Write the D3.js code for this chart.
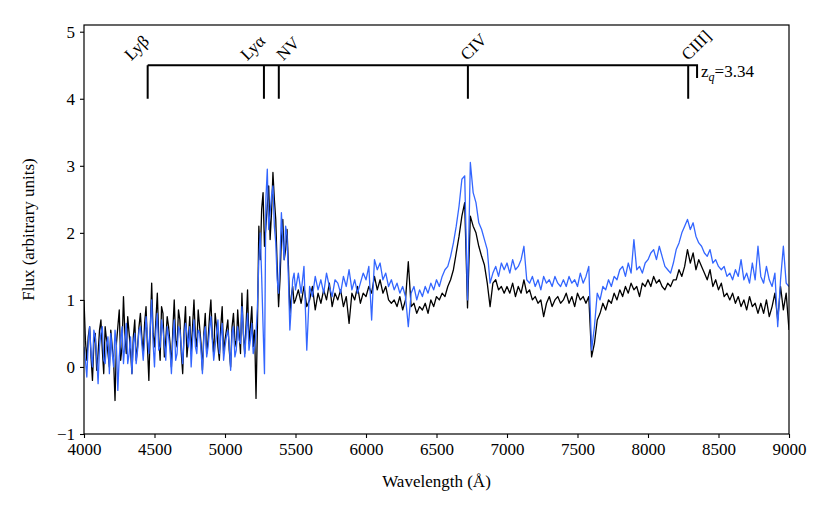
<!DOCTYPE html>
<html>
<head>
<meta charset="utf-8">
<script src="https://cdn.jsdelivr.net/npm/d3@7"></script>
<style>
  body { margin: 0; background: #fff; }
  #wrap { position: relative; width: 830px; height: 513px; }
  text, .lname { font-family: "Liberation Serif", "DejaVu Serif", serif; }
  .lname {
    position: absolute; font-size: 17px; line-height: 1; white-space: nowrap;
    transform-origin: 0 0; transform: rotate(-45deg) translateY(-0.8em);
  }
</style>
</head>
<body>
<div id="wrap"><svg id="chart"></svg></div>
<script>
// wavelength grid: 10 A bins in the noisy blue part, 20 A bins after 5500 A
const waves = d3.range(4000, 5500, 10).concat(d3.range(5500, 9001, 20));

// flux, black spectrum
const fluxBlack = [
  1.0, 0.4, 0.1, 0.45, 0.6, 0.15, -0.2, 0.35, 0.5, -0.05,   // 4000 (10 A)
  0.2, 0.55, 0.7, 0.25, -0.1, 0.6, 0.4, 0.2, 0.0, 0.55,     // 4100
  0.3, 0.1, -0.5, 0.35, 0.6, 0.85, 0.1, 0.3, 1.05, 0.5,     // 4200
  0.2, 0.75, 0.5, 0.25, -0.1, 0.45, 0.7, 0.1, 0.3, 0.6,     // 4300
  0.8, 0.45, 0.2, 0.65, 0.9, 0.3, -0.2, 0.55, 1.25, 0.5,    // 4400
  0.3, 0.7, 1.1, 0.45, 0.1, 0.9, 0.8, 0.15, 0.4, 0.75,      // 4500
  0.6, 0.35, 0.0, 0.55, 1.0, 0.4, 0.3, 0.85, 0.7, 0.2,      // 4600
  -0.1, 0.55, 0.9, 0.15, 0.4, 0.75, 0.2, 0.6, 1.0, 0.45,    // 4700
  0.3, 0.85, 0.6, 0.35, -0.05, 0.5, 0.8, 0.2, 0.4, 0.75,    // 4800
  1.0, 0.45, 0.2, 0.8, 0.6, 0.3, 0.1, 0.6, 0.9, 0.2,        // 4900
  0.4, 0.55, 0.7, 0.25, 0.0, 0.6, 0.8, 0.4, 0.3, 0.85,      // 5000
  0.5, 0.2, 1.1, 0.5, 0.2, 0.65, 1.15, 0.35, 0.6, 0.9,      // 5100
  0.3, 0.55, -0.47, 0.6, 2.1, 1.6, 2.35, 2.6, 1.8, 2.1,     // 5200
  2.4, 2.7, 1.9, 2.3, 2.9, 2.5, 2.2, 1.5, 0.9, 1.3,         // 5300
  1.9, 2.2, 1.6, 1.75, 2.05, 1.5, 0.8, 1.05, 1.2, 0.95,     // 5400
  1.0, 1.15, 0.95, 1.2, 0.9,                                // 5500 (20 A)
  1.0, 1.2, 0.85, 1.1, 0.95, 1.15, 1.0, 1.25, 0.9, 1.1,     // 5600
  1.0, 1.15, 0.9, 1.05, 0.65, 1.1, 1.0, 1.2, 0.95, 1.1,     // 5800
  1.05, 1.2, 1.1, 1.35, 1.15, 1.3, 1.1, 1.2, 1.0, 0.95,     // 6000
  1.0, 0.9, 1.05, 0.85, 1.0, 1.57, 0.9, 0.95, 0.8, 0.9,     // 6200
  0.85, 0.95, 0.8, 1.0, 0.9, 1.05, 1.0, 1.1, 1.05, 1.2,     // 6400
  1.3, 1.45, 1.7, 1.95, 2.25, 2.45, 0.88, 2.25, 2.1, 2.0,   // 6600
  1.8, 1.65, 1.52, 1.25, 0.9, 1.25, 1.3, 1.15, 1.2, 1.1,    // 6800
  1.2, 1.1, 1.25, 1.05, 1.2, 1.1, 1.3, 1.1, 1.15, 1.0,      // 7000
  1.05, 0.95, 1.0, 0.75, 0.95, 1.05, 0.9, 1.0, 1.05, 0.95,  // 7200
  1.0, 1.1, 0.95, 1.05, 0.9, 1.1, 1.0, 1.05, 0.95, 1.05,    // 7400
  0.15, 0.35, 0.7, 0.8, 0.95, 0.85, 1.0, 0.95, 1.1, 1.0,    // 7600
  1.15, 1.05, 1.2, 1.1, 1.25, 1.15, 1.2, 1.05, 1.25, 1.2,   // 7800
  1.3, 1.2, 1.35, 1.25, 1.3, 1.2, 1.15, 1.25, 1.2, 1.3,     // 8000
  1.3, 1.45, 1.35, 1.5, 1.75, 1.55, 1.7, 1.45, 1.6, 1.5,    // 8200
  1.4, 1.3, 1.45, 1.2, 1.3, 1.15, 1.25, 1.05, 1.1, 1.0,     // 8400
  1.1, 0.95, 1.05, 0.9, 1.0, 0.85, 1.05, 0.9, 0.95, 0.8,    // 8600
  0.95, 0.8, 1.0, 0.75, 0.9, 1.1, 0.7, 1.2, 0.85, 1.1,      // 8800
  0.55                                                      // 9000
];

// flux, blue spectrum
const fluxBlue = [
  0.3, 0.1, -0.15, 0.35, 0.6, 0.2, 0.0, 0.55, 0.45, 0.15,   // 4000 (10 A)
  -0.25, 0.3, 0.5, 0.6, 0.1, 0.05, 0.35, 0.45, -0.1, 0.5,   // 4100
  0.2, 0.0, 0.55, 0.3, -0.35, 0.15, 0.4, 0.6, 0.05, 0.35,   // 4200
  0.65, 0.05, 0.2, 0.45, -0.1, 0.35, 0.5, 0.05, 0.25, 0.55, // 4300
  0.6, 0.35, 0.1, 0.4, 0.75, 0.45, 0.2, 0.6, 1.0, 0.35,     // 4400
  0.0, 0.55, 0.8, 0.25, 0.3, 0.7, 0.55, 0.35, 0.1, 0.6,     // 4500
  0.45, 0.25, -0.1, 0.4, 0.7, 0.1, 0.2, 0.6, 0.55, 0.3,     // 4600
  0.05, 0.45, 0.65, 0.5, 0.3, 0.6, 0.0, 0.4, 0.7, 0.3,      // 4700
  0.2, 0.55, 0.5, 0.25, -0.1, 0.45, 0.6, 0.15, 0.3, 0.55,   // 4800
  0.75, 0.4, 0.1, 0.3, 0.5, 0.7, 0.2, 0.45, 0.65, 0.1,      // 4900
  0.3, 0.45, 0.55, 0.35, -0.05, 0.5, 0.6, 0.15, 0.25, 0.6,  // 5000
  0.4, 0.35, 0.9, 0.55, 0.15, 0.5, 0.8, 0.25, 0.4, 0.65,    // 5100
  0.2, 0.3, 0.5, 0.9, 1.6, 2.0, 1.35, 0.6, -0.1, 2.5,       // 5200
  2.95, 2.05, 2.3, 2.55, 2.7, 2.1, 1.85, 1.3, 1.1, 1.6,     // 5300
  2.3, 1.9, 1.6, 2.1, 1.95, 1.3, 0.55, 0.9, 1.3, 1.4,       // 5400
  1.15, 1.4, 1.1, 1.5, 0.25,                                // 5500 (20 A)
  1.2, 1.05, 1.35, 1.15, 1.3, 1.1, 1.4, 1.2, 1.05, 1.3,     // 5600
  1.25, 1.1, 1.35, 1.2, 1.45, 1.15, 1.3, 1.1, 1.25, 1.4,    // 5800
  1.3, 1.5, 0.7, 1.6, 1.45, 1.55, 1.3, 1.4, 1.2, 1.3,       // 6000
  1.15, 1.25, 1.1, 1.2, 1.05, 0.6, 1.1, 1.2, 1.0, 1.15,     // 6200
  1.05, 1.2, 1.1, 1.25, 1.15, 1.3, 1.2, 1.35, 1.45, 1.5,    // 6400
  1.65, 1.85, 2.1, 2.4, 2.8, 2.85, 1.0, 3.05, 2.6, 2.45,    // 6600
  2.15, 2.05, 1.9, 1.75, 1.25, 1.4, 1.5, 1.35, 1.55, 1.45,  // 6800
  1.55, 1.4, 1.6, 1.45, 1.5, 1.6, 1.8, 1.3, 1.25, 1.35,     // 7000
  1.2, 1.3, 1.15, 1.35, 1.25, 1.3, 1.2, 1.35, 1.25, 1.2,    // 7200
  1.3, 1.2, 1.35, 1.25, 1.3, 1.2, 1.4, 1.25, 1.35, 1.5,     // 7400
  0.25, 0.6, 1.1, 1.0, 1.2, 1.15, 1.3, 1.2, 1.35, 1.3,      // 7600
  1.45, 1.5, 1.35, 1.55, 1.4, 1.9, 1.45, 1.5, 1.4, 1.55,    // 7800
  1.6, 1.7, 1.75, 1.6, 1.8, 1.65, 1.5, 1.45, 1.4, 1.55,     // 8000
  1.75, 1.85, 2.0, 2.1, 2.2, 2.05, 2.15, 1.95, 1.85, 1.8,   // 8200
  1.7, 1.65, 1.75, 1.55, 1.6, 1.5, 1.45, 1.5, 1.35, 1.4,    // 8400
  1.3, 1.45, 1.35, 1.6, 1.3, 1.4, 1.25, 1.55, 1.3, 1.8,     // 8600
  1.35, 1.25, 1.5, 1.3, 1.2, 1.4, 0.6, 1.3, 1.8, 1.25,      // 8800
  1.2                                                       // 9000
];

// emission lines (rest wavelength) and redshift
const lineNames = ["Ly\u03b2", "Ly\u03b1", "NV", "CIV", "CIII]"];
const lineRest = [1025.7, 1215.7, 1240.0, 1549.0, 1909.0];
const zq = 3.34;

const xTicks = [4000, 4500, 5000, 5500, 6000, 6500, 7000, 7500, 8000, 8500, 9000];
const yTicks = [-1, 0, 1, 2, 3, 4, 5];

const W = 830, H = 513;
const margin = { top: 25, right: 41, bottom: 79, left: 84 };
const width = W - margin.left - margin.right;
const height = H - margin.top - margin.bottom;

const svg = d3.select("#chart").attr("width", W).attr("height", H);
const g = svg.append("g").attr("transform", `translate(${margin.left},${margin.top})`);

const x = d3.scaleLinear().domain([4000, 9000]).range([0, width]);
const y = d3.scaleLinear().domain([-1, 5.1]).range([height, 0]);

g.append("defs").append("clipPath").attr("id", "clip")
  .append("rect").attr("width", width).attr("height", height);

const line = d3.line().x((d) => x(d[0])).y((d) => y(d[1]));

// spectra
const series = [
  { flux: fluxBlack, color: "#000000" },
  { flux: fluxBlue, color: "#3366ff" }
];
series.forEach((s) => {
  g.append("path")
    .datum(waves.map((w, i) => [w, s.flux[i]]))
    .attr("clip-path", "url(#clip)")
    .attr("fill", "none")
    .attr("stroke", s.color)
    .attr("stroke-width", 1.3)
    .attr("stroke-linejoin", "round")
    .attr("d", line);
});

// line identification bracket
const obs = lineRest.map((r) => r * (1 + zq));
const barEnd = 8348;
const mk = g.append("g").attr("stroke", "#000").attr("stroke-width", 2).attr("fill", "none");
mk.append("path")
  .attr("d", `M${x(obs[0])},${y(4.5)}H${x(barEnd)}V${y(4.31)}`);
mk.selectAll("line")
  .data(obs)
  .enter()
  .append("line")
  .attr("x1", (d) => x(d)).attr("x2", (d) => x(d))
  .attr("y1", y(4.0)).attr("y2", y(4.5));

// labels tilted 45 degrees (html overlay); nudges in px so they do not collide
const labelDx = [-17, -17, 4, -1, 0];
d3.select("#wrap").selectAll("div.lname")
  .data(lineNames)
  .enter()
  .append("div")
  .attr("class", "lname")
  .style("left", (d, i) => `${margin.left + x(obs[i]) + labelDx[i]}px`)
  .style("top", `${margin.top + y(4.56)}px`)
  .text((d) => d);

const zt = g.append("text")
  .attr("x", x(barEnd) + 4)
  .attr("y", y(4.33))
  .style("font-size", "17px");
zt.append("tspan").text("z");
zt.append("tspan").attr("dy", 4).style("font-size", "12px").style("font-style", "italic").text("q");
zt.append("tspan").attr("dy", -4).text("=3.34");

// axes
const fmt = (d) => (d < 0 ? "\u2212" + Math.abs(d) : String(d));
const xAxis = g.append("g")
  .attr("transform", `translate(0,${height})`)
  .call(d3.axisBottom(x).tickValues(xTicks).tickFormat(fmt).tickSize(4).tickSizeOuter(0).tickPadding(5));
const yAxis = g.append("g")
  .call(d3.axisLeft(y).tickValues(yTicks).tickFormat(fmt).tickSize(4).tickSizeOuter(0).tickPadding(5));
[xAxis, yAxis].forEach((a) => {
  a.select(".domain").remove();
  a.selectAll("line").attr("stroke", "#000").attr("stroke-width", 1.1);
  a.selectAll("text").style("font-size", "17px").attr("fill", "#000")
    .style("font-family", '"Liberation Serif", serif');
});

g.append("rect")
  .attr("width", width).attr("height", height)
  .attr("fill", "none").attr("stroke", "#000").attr("stroke-width", 1.2);

// axis titles
svg.append("text")
  .attr("x", margin.left + width / 2)
  .attr("y", 487)
  .attr("text-anchor", "middle")
  .style("font-size", "17px")
  .text("Wavelength (\u00c5)");

svg.append("text")
  .attr("transform", `translate(34,${margin.top + height / 2}) rotate(-90)`)
  .attr("text-anchor", "middle")
  .style("font-size", "17px")
  .text("Flux (arbitrary units)");
</script>
</body>
</html>
